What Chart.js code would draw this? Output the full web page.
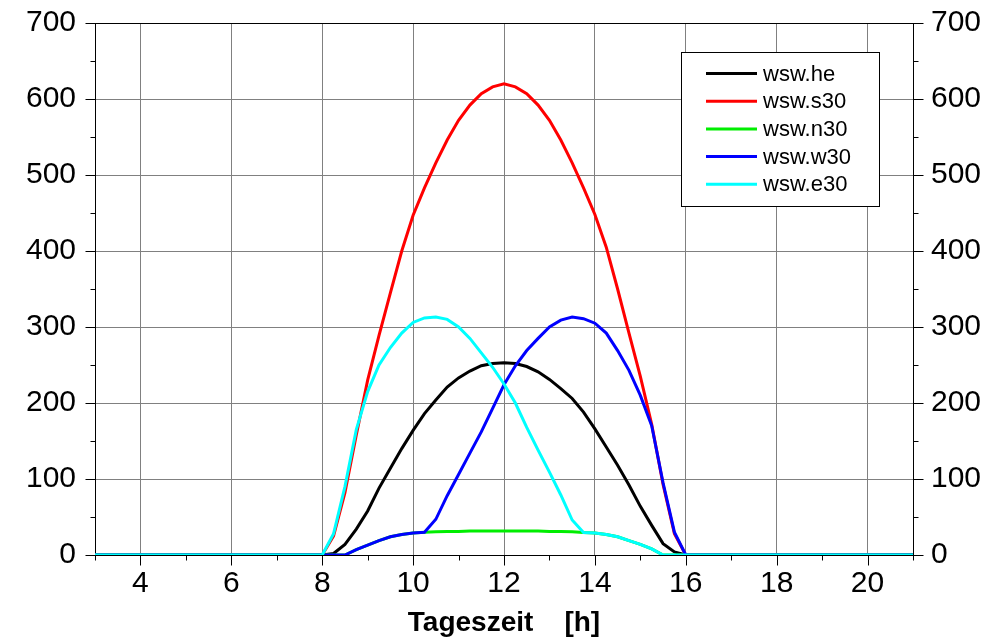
<!DOCTYPE html>
<html lang="de">
<head>
<meta charset="UTF-8">
<title>Tageszeit</title>
<script src="https://cdn.jsdelivr.net/npm/chart.js"></script>
<style>
    html, body { margin: 0; padding: 0; background: #fff; }
    #wrap { width: 1002px; height: 641px; }
</style>
</head>
<body>
<div id="wrap"><canvas id="chart" width="1002" height="641"></canvas></div>
<script>
// time of day [h], 15 min steps between 8 and 16
const hours = [3, 8, 8.25, 8.5, 8.75, 9, 9.25, 9.5, 9.75, 10, 10.25, 10.5, 10.75, 11, 11.25, 11.5, 11.75,
    12, 12.25, 12.5, 12.75, 13, 13.25, 13.5, 13.75, 14, 14.25, 14.5, 14.75, 15, 15.25, 15.5, 15.75, 16, 21];

const wswHe  = [0, 0, 2, 14, 34, 58, 88, 114, 140, 164, 186, 204, 221, 233, 242, 249, 252,
    253, 252, 248, 241, 231, 219, 206, 188, 166, 142, 118, 92, 64, 39, 15, 4, 0, 0];
const wswS30 = [0, 0, 25, 82, 158, 230, 289, 345, 400, 447, 483, 516, 546, 572, 592, 607, 616,
    620, 616, 607, 592, 572, 546, 516, 483, 448, 405, 350, 292, 235, 172, 93, 28, 0, 0];
const wswN30 = [0, 0, 0, 0, 7, 13, 19, 24, 27, 29, 30, 30.5, 31, 31, 31.5, 31.5, 31.5,
    31.5, 31.5, 31.5, 31.5, 31, 31, 30.5, 29.5, 29, 27, 24, 19, 14, 8, 0, 0, 0, 0];
const wswW30 = [0, 0, 0, 0, 7, 13, 19, 24, 27, 29, 30, 47, 78, 106, 134, 162, 193,
    224, 249, 269, 285, 300, 309, 313, 311, 305, 292, 269, 243, 210, 170, 95, 30, 0, 0];
const wswE30 = [0, 0, 28, 90, 165, 215, 250, 273, 292, 306, 312, 313, 310, 300, 285, 266, 247,
    225, 200, 168, 138, 109, 79, 46, 29.5, 29, 27, 24, 19, 14, 8, 0, 0, 0, 0];

const seriesNames = ['wsw.he', 'wsw.s30', 'wsw.n30', 'wsw.w30', 'wsw.e30'];
const seriesColors = ['#000000', '#ff0000', '#00ee00', '#0000ff', '#00ffff'];
const seriesValues = [wswHe, wswS30, wswN30, wswW30, wswE30];

const xTicks = [4, 6, 8, 10, 12, 14, 16, 18, 20];
const yTicks = [0, 100, 200, 300, 400, 500, 600, 700];

const FONT = "'Liberation Sans', Arial, sans-serif";

function points(vals) {
    return vals.map((v, i) => ({ x: hours[i], y: v }));
}

// frame, outward tick marks (major + minor) and the legend box
const framePlugin = {
    id: 'framePlugin',
    beforeDatasetsDraw(chart) {
        const ctx = chart.ctx;
        const a = chart.chartArea;
        const xs = chart.scales.x, ys = chart.scales.y;
        const L = Math.round(a.left) + 0.5, R = Math.round(a.right) + 0.5;
        const T = Math.round(a.top) + 0.5, B = Math.round(a.bottom) + 0.5;
        ctx.save();
        ctx.strokeStyle = '#000';
        ctx.lineWidth = 1;
        ctx.strokeRect(L, T, R - L, B - T);
        ctx.beginPath();
        for (let h = 3; h <= 21; h++) {
            const px = Math.round(xs.getPixelForValue(h)) + 0.5;
            const len = xTicks.includes(h) ? 10 : 5;
            ctx.moveTo(px, B);
            ctx.lineTo(px, B + len);
        }
        for (let v = 0; v <= 700; v += 50) {
            const py = Math.round(ys.getPixelForValue(v)) + 0.5;
            const len = yTicks.includes(v) ? 10 : 5;
            ctx.moveTo(L - len, py);
            ctx.lineTo(L, py);
            ctx.moveTo(R, py);
            ctx.lineTo(R + len, py);
        }
        ctx.stroke();
        ctx.restore();
    },
    afterDraw(chart) {
        const ctx = chart.ctx;
        const bx = 681.5, by = 52.5, bw = 198, bh = 154;
        ctx.save();
        ctx.fillStyle = '#fff';
        ctx.fillRect(bx, by, bw, bh);
        ctx.strokeStyle = '#000';
        ctx.lineWidth = 1;
        ctx.strokeRect(bx, by, bw, bh);
        ctx.font = '22px ' + FONT;
        ctx.textBaseline = 'middle';
        ctx.textAlign = 'left';
        chart.data.datasets.forEach((ds, i) => {
            const y = 73.5 + i * 27.7;
            ctx.strokeStyle = ds.borderColor;
            ctx.lineWidth = 3;
            ctx.beginPath();
            ctx.moveTo(706, y);
            ctx.lineTo(757, y);
            ctx.stroke();
            ctx.fillStyle = '#000';
            ctx.fillText(ds.label, 763, y + 1);
        });
        ctx.restore();
    }
};

const datasets = seriesNames.map((name, i) => ({
    label: name,
    data: points(seriesValues[i]),
    borderColor: seriesColors[i],
    backgroundColor: seriesColors[i],
    borderWidth: 3,
    pointRadius: 0,
    tension: 0,
    fill: false,
    order: seriesNames.length - i
}));

function fixVertical(width) {
    return function (s) {
        s.width = width;
        s.paddingTop = 0;
        s.paddingBottom = 0;
    };
}

new Chart(document.getElementById('chart'), {
    type: 'line',
    data: { datasets: datasets },
    options: {
        responsive: false,
        animation: false,
        devicePixelRatio: 1,
        layout: { padding: { top: 23, left: 0, right: 0, bottom: 0 } },
        plugins: {
            legend: { display: false },
            tooltip: { enabled: false }
        },
        scales: {
            x: {
                type: 'linear',
                min: 3,
                max: 21,
                afterFit(s) { s.height = 86; s.paddingLeft = 0; s.paddingRight = 0; },
                afterBuildTicks(s) {
                    s.ticks = [];
                    for (let h = 3; h <= 21; h++) s.ticks.push({ value: h });
                },
                ticks: {
                    autoSkip: false,
                    maxRotation: 0,
                    padding: 11,
                    color: '#000',
                    font: { family: FONT, size: 30 },
                    callback: v => xTicks.includes(v) ? String(v) : ''
                },
                grid: {
                    drawTicks: false,
                    lineWidth: 1,
                    color: c => (c.tick && xTicks.includes(c.tick.value)) ? '#808080' : 'rgba(0,0,0,0)'
                },
                border: { display: false },
                title: {
                    display: true,
                    text: 'Tageszeit    [h]',
                    color: '#000',
                    font: { family: FONT, size: 28, weight: 'bold' },
                    padding: { top: 0, bottom: 1 }
                }
            },
            y: {
                position: 'left',
                min: 0,
                max: 700,
                afterFit: fixVertical(95),
                ticks: {
                    stepSize: 100,
                    padding: 19,
                    color: '#000',
                    font: { family: FONT, size: 30 }
                },
                grid: { drawTicks: false, color: '#808080', lineWidth: 1 },
                border: { display: false }
            },
            y2: {
                position: 'right',
                min: 0,
                max: 700,
                afterFit: fixVertical(89),
                ticks: {
                    stepSize: 100,
                    padding: 18,
                    color: '#000',
                    font: { family: FONT, size: 30 }
                },
                grid: { display: false, drawTicks: false },
                border: { display: false }
            }
        }
    },
    plugins: [framePlugin]
});
</script>
</body>
</html>
